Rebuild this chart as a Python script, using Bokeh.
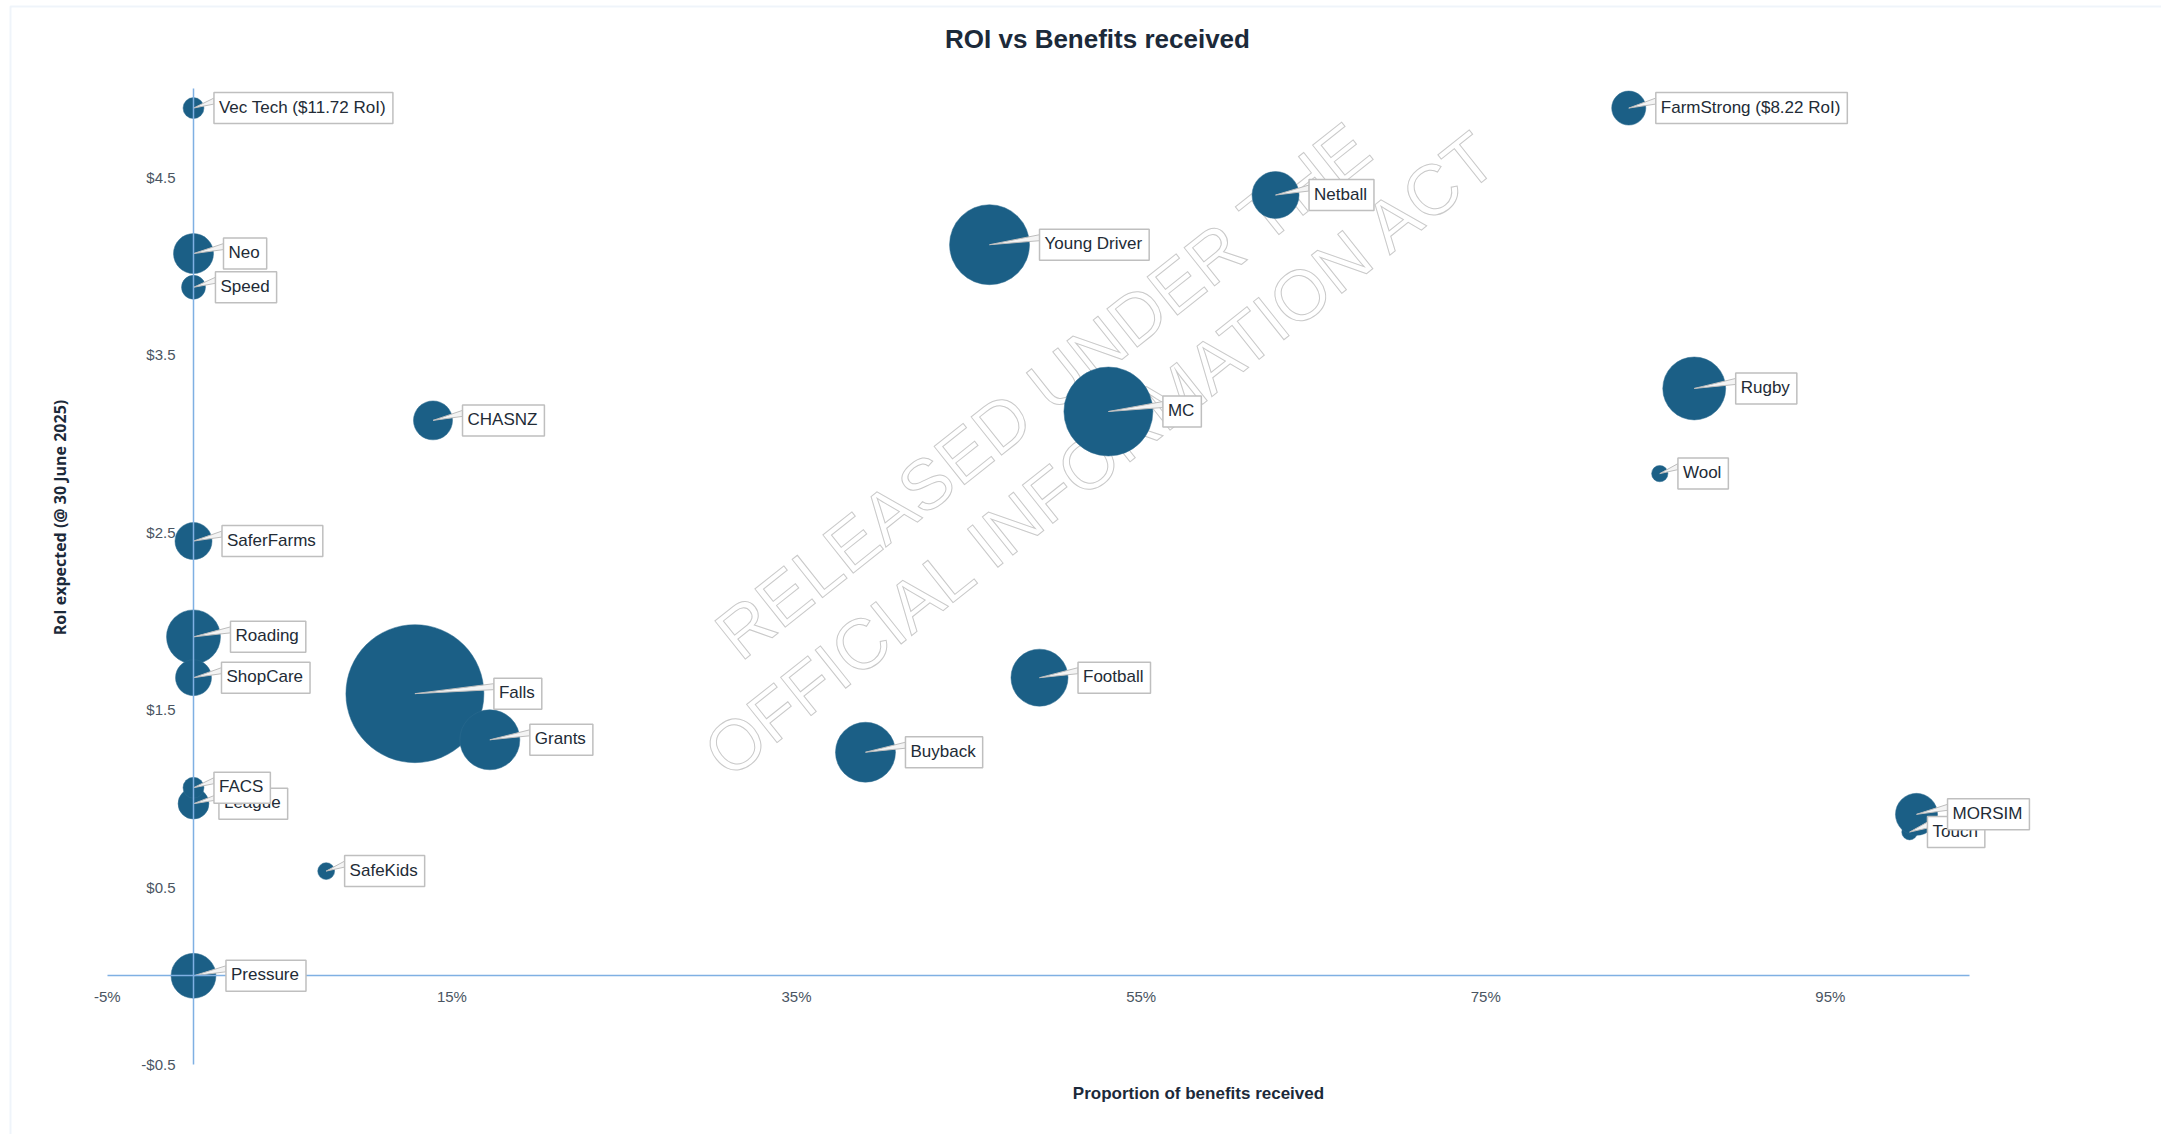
import math
from bokeh.plotting import figure
from bokeh.models import (Range1d, LinearAxis, FixedTicker, NumeralTickFormatter,
                          Label, BoxAnnotation, ColumnDataSource)
from bokeh.embed import file_html
from bokeh.resources import INLINE
from bokeh.core.properties import value

# ---------------- data ----------------
names = ["Vec Tech ($11.72 RoI)", "FarmStrong ($8.22 RoI)", "Netball", "Young Driver", "Neo",
         "Speed", "Rugby", "MC", "CHASNZ", "Wool", "SaferFarms", "Roading", "ShopCare", "Falls",
         "Grants", "Football", "Buyback", "League", "FACS", "SafeKids", "Touch", "MORSIM", "Pressure"]
benefits = [0.0, 0.833, 0.628, 0.462, 0.0, 0.0, 0.871, 0.531, 0.139, 0.851, 0.0, 0.0, 0.0,
            0.1285, 0.172, 0.491, 0.390, 0.0, 0.0, 0.077, 0.996, 1.0, 0.0]
roi = [4.89, 4.89, 4.40, 4.12, 4.07, 3.88, 3.31, 3.18, 3.13, 2.83, 2.45, 1.91, 1.68,
       1.59, 1.33, 1.68, 1.26, 0.97, 1.06, 0.59, 0.81, 0.91, 0.0]
bubble_size = [2.3, 6.1, 11.6, 33.6, 8.4, 3.0, 20.8, 41.6, 8.0, 1.4, 7.2, 15.3, 6.8,
               100.0, 18.9, 17.1, 18.9, 5.0, 2.3, 1.5, 1.3, 9.3, 10.6]
x_ticks = [-0.05, 0.15, 0.35, 0.55, 0.75, 0.95]
y_ticks = [-0.5, 0.5, 1.5, 2.5, 3.5, 4.5]
x_axis_extent = (-0.0501, 1.031)
y_axis_extent = (-0.5001, 5.0)

title_text = "ROI vs Benefits received"
x_title = "Proportion of benefits received"
y_title = "RoI expected (@ 30 June 2025)"
watermark = ["RELEASED UNDER THE", "OFFICIAL INFORMATION ACT"]

# ---------------- layout (pixel mapping) ----------------
W, H = 2161, 1134
X_ZERO_PX, PX_PER_X = 193.0, 1723.0
Y_ZERO_PX, PX_PER_Y = 975.3, 177.45
X0, X1 = -X_ZERO_PX / PX_PER_X, (W - X_ZERO_PX) / PX_PER_X
Y0, Y1 = -(H - Y_ZERO_PX) / PX_PER_Y, Y_ZERO_PX / PX_PER_Y
MAXD = 138.0

BUBBLE = "#1b5f86"
AXIS = "#7fb0e3"
DARK = "#1c2a3a"
TICK = "#4a5562"
FONT = "Liberation Sans"


def page_to_data(px, py):
    return (px - X_ZERO_PX) / PX_PER_X, (Y_ZERO_PX - py) / PX_PER_Y


p = figure(width=W, height=H, output_backend="svg", toolbar_location=None,
           x_range=Range1d(X0, X1), y_range=Range1d(Y0, Y1),
           x_axis_location=None, y_axis_location=None, min_border=0,
           min_border_left=0, min_border_right=0, min_border_top=0, min_border_bottom=0,
           background_fill_color="white", border_fill_color="white", outline_line_color=None)
p.title.visible = False
for g in p.grid:
    g.visible = False

# outer chart border (only its left and top edges are inside the picture)
bl, bt = page_to_data(10, 6)
p.add_layout(BoxAnnotation(left=bl, right=X1 + 1.0, top=bt, bottom=Y0 - 2.0,
                           fill_alpha=0, line_color="#cadcee", line_width=2))

# watermark (outlined text)
wm_pos = [page_to_data(1043, 390), page_to_data(1102, 452)]
p.text(x=[q[0] for q in wm_pos], y=[q[1] for q in wm_pos], text=watermark,
       angle=math.radians(38.5), text_align="center", text_baseline="middle",
       text_font=value(FONT), text_font_size="71px", text_color="white",
       text_outline_color="#c9c9c9")

# axes crossing at zero
xaxis = LinearAxis(fixed_location=0, bounds=x_axis_extent,
                   ticker=FixedTicker(ticks=x_ticks, minor_ticks=[]),
                   formatter=NumeralTickFormatter(format="0%"))
yaxis = LinearAxis(fixed_location=0, bounds=y_axis_extent,
                   ticker=FixedTicker(ticks=y_ticks, minor_ticks=[]),
                   formatter=NumeralTickFormatter(format="$0.0"))
for ax, standoff in ((xaxis, 12), (yaxis, 18)):
    ax.axis_line_color = AXIS
    ax.axis_line_width = 1.5
    ax.major_tick_line_color = None
    ax.minor_tick_line_color = None
    ax.major_tick_out = 0
    ax.major_tick_in = 0
    ax.major_label_standoff = standoff
    ax.major_label_text_font = FONT
    ax.major_label_text_font_size = "15px"
    ax.major_label_text_color = TICK
p.add_layout(xaxis, "below")
p.add_layout(yaxis, "left")

# bubbles
diam = [MAXD * math.sqrt(s / 100.0) for s in bubble_size]
src = ColumnDataSource(dict(x=benefits, y=roi, d=diam, name=names))
p.scatter(x="x", y="y", size="d", source=src, marker="circle",
          fill_color=BUBBLE, line_color="#2f6d90", line_width=0.5)

# callout tails
xs, ys = [], []
for bx, by, d in zip(benefits, roi, diam):
    gx = bx + (d / 2 + 10) / PX_PER_X
    xs.append([bx, gx, gx])
    ys.append([by, by + 4 / PX_PER_Y, by + 10 / PX_PER_Y])
p.patches(xs=xs, ys=ys, fill_color="#f4f4f4", line_color="#bdbdbd", line_width=1)

# data labels
for bx, by, d, nm in zip(benefits, roi, diam, names):
    p.add_layout(Label(x=bx, y=by, x_offset=d / 2 + 10, text=nm,
                       text_align="left", text_baseline="middle",
                       text_font=FONT, text_font_size="17px", text_color="#222b36",
                       background_fill_color="white", border_line_color="#bfbfbf",
                       border_line_width=1.5, padding=(5, 7, 5, 7)))

# titles
tx, ty = page_to_data(1097, 38)
p.add_layout(Label(x=tx, y=ty, text=title_text,
                   text_align="center", text_baseline="middle", text_font=FONT,
                   text_font_size="26px", text_font_style="bold", text_color=DARK))
ax_x, ax_y = page_to_data(1198, 1093)
p.add_layout(Label(x=ax_x, y=ax_y, text=x_title,
                   text_align="center", text_baseline="middle", text_font=FONT,
                   text_font_size="17px", text_font_style="bold", text_color=DARK))
ay_x, ay_y = page_to_data(59, 517)
p.add_layout(Label(x=ay_x, y=ay_y, text=y_title,
                   angle=math.pi / 2, text_align="center", text_baseline="middle",
                   text_font="Open Sans", text_font_size="16px", text_font_style="bold",
                   text_color=DARK))

open("out.html", "w").write(file_html(p, INLINE))
